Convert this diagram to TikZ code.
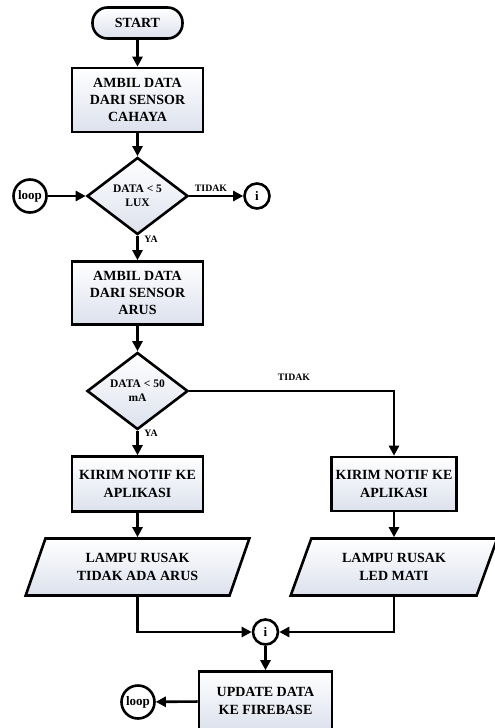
\documentclass[tikz,border=0pt]{standalone}
\usepackage{fontspec}
\setmainfont{Liberation Serif}
\usepackage{tikz}
\usetikzlibrary{arrows.meta}
\usetikzlibrary{shapes.geometric}

\definecolor{boxshade}{RGB}{220,225,237}

\tikzset{
  alur/.style={line width=2.6pt,-{Triangle[length=10pt,width=10pt]}},
  proses/.style={draw,line width=2.6pt,top color=white,bottom color=boxshade,align=center,inner sep=0pt,font=\fontsize{14}{17.3}\selectfont\bfseries},
  terminal/.style={proses,rounded corners=15pt},
  keputusan/.style={proses,diamond,aspect=1.3,minimum width=101,minimum height=77,font=\fontsize{11.5}{14}\selectfont\bfseries},
  keluaran/.style={proses,trapezium,trapezium left angle=64,trapezium right angle=116,trapezium stretches=true,minimum height=57},
  konektor/.style={draw,circle,line width=2.6pt,fill=white,inner sep=0pt,font=\fontsize{13}{15}\selectfont\bfseries},
  ket/.style={inner sep=0pt,font=\fontsize{9.8}{11}\selectfont\bfseries}
}

\begin{document}
\begin{tikzpicture}[x=1pt,y=-1pt]
		\useasboundingbox (0,0) rectangle (495,728);
		% sensor cahaya
		\draw (137.5,23) node[terminal,minimum width=90,minimum height=31] (start) {START};
		\draw (137.5,100) node[proses,minimum width=131,minimum height=64] (cahaya) {AMBIL DATA\\DARI SENSOR\\CAHAYA};
		\draw (137.5,196) node[keputusan] (cekcahaya) {DATA < 5\\LUX};
		\draw (30,196) node[konektor,minimum size=33] (loopa) {loop};
		\draw (257,196) node[konektor,minimum size=25] (ia) {i};
		\draw (211,188) node[ket] (tidaka) {TIDAK};
		\draw (151,239) node[ket] (yaa) {YA};
		% sensor arus
		\draw (137.5,293) node[proses,minimum width=131,minimum height=63] (arus) {AMBIL DATA\\DARI SENSOR\\ARUS};
		\draw (137.5,391) node[keputusan] (cekarus) {DATA < 50\\mA};
		\draw (294,377) node[ket] (tidakb) {TIDAK};
		\draw (151,433) node[ket] (yab) {YA};
		\draw (137.5,484) node[proses,minimum width=131,minimum height=55] (notifa) {KIRIM NOTIF KE\\APLIKASI};
		\draw (394,484) node[proses,minimum width=125,minimum height=54] (notifb) {KIRIM NOTIF KE\\APLIKASI};
		\draw (137.5,567) node[keluaran,minimum width=224] (rusaka) {LAMPU RUSAK\\TIDAK ADA ARUS};
		\draw (394,567) node[keluaran,minimum width=207] (rusakb) {LAMPU RUSAK\\LED MATI};
		% firebase
		\draw (265.5,632) node[konektor,minimum size=25] (ib) {i};
		\draw (265.5,701) node[proses,minimum width=133,minimum height=59] (update) {UPDATE DATA\\KE FIREBASE};
		\draw (138,702) node[konektor,minimum size=33] (loopb) {loop};

		\draw[alur] (start) -- (cahaya);
		\draw[alur] (cahaya) -- (cekcahaya);
		\draw[alur] (loopa) -- (cekcahaya);
		\draw[alur] (cekcahaya) -- (ia);
		\draw[alur] (cekcahaya) -- (arus);
		\draw[alur] (arus) -- (cekarus);
		\draw[alur] (cekarus) -- (notifa);
		\draw[alur] (cekarus.east) -| (notifb.north);
		\draw[alur] (notifa) -- (rusaka);
		\draw[alur] (notifb) -- (rusakb);
		\draw[alur] (rusaka.south) |- (ib.west);
		\draw[alur] (rusakb.south) |- (ib.east);
		\draw[alur] (ib) -- (update);
		\draw[alur] (update) -- (loopb);
	\end{tikzpicture}
\end{document}
